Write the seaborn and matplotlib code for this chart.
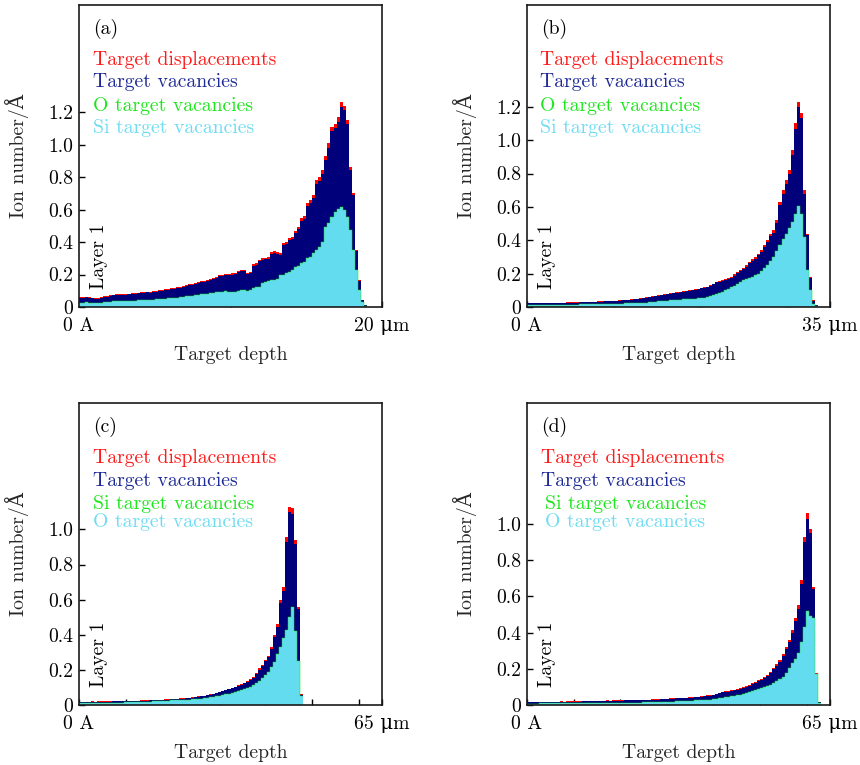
import numpy as np
import pandas as pd
import matplotlib
matplotlib.use("Agg")
import matplotlib.pyplot as plt
import seaborn as sns

# ---------------- data ----------------
# panel (a): 0-20 um, bin 0.2 um
a_disp = [0.060, 0.062, 0.064, 0.060, 0.058, 0.055, 0.054, 0.060, 0.066, 0.068,
          0.072, 0.075, 0.078, 0.080, 0.078, 0.080, 0.083, 0.085, 0.086, 0.088,
          0.090, 0.092, 0.094, 0.093, 0.096, 0.100, 0.104, 0.106, 0.108, 0.112,
          0.115, 0.118, 0.122, 0.125, 0.130, 0.135, 0.140, 0.143, 0.148, 0.152,
          0.158, 0.160, 0.168, 0.175, 0.180, 0.185, 0.195, 0.200, 0.203, 0.205,
          0.207, 0.210, 0.222, 0.228, 0.228, 0.211, 0.214, 0.262, 0.270, 0.290,
          0.300, 0.302, 0.305, 0.338, 0.342, 0.336, 0.330, 0.395, 0.402, 0.428,
          0.432, 0.470, 0.494, 0.546, 0.560, 0.638, 0.660, 0.690, 0.780, 0.800,
          0.843, 0.930, 1.007, 1.110, 1.130, 1.170, 1.263, 1.240, 1.150, 0.860,
          0.700, 0.350, 0.166, 0.043, 0.010]
a_vac = [0.056, 0.058, 0.060, 0.057, 0.054, 0.052, 0.051, 0.056, 0.062, 0.064,
         0.068, 0.071, 0.074, 0.076, 0.075, 0.076, 0.079, 0.081, 0.082, 0.084,
         0.086, 0.088, 0.090, 0.089, 0.092, 0.095, 0.099, 0.101, 0.103, 0.107,
         0.110, 0.113, 0.117, 0.120, 0.124, 0.129, 0.134, 0.137, 0.142, 0.146,
         0.151, 0.153, 0.161, 0.168, 0.173, 0.178, 0.188, 0.193, 0.196, 0.198,
         0.200, 0.203, 0.214, 0.220, 0.220, 0.204, 0.207, 0.253, 0.261, 0.281,
         0.291, 0.293, 0.296, 0.328, 0.332, 0.326, 0.320, 0.383, 0.390, 0.415,
         0.419, 0.456, 0.480, 0.530, 0.543, 0.620, 0.641, 0.670, 0.758, 0.778,
         0.820, 0.905, 0.980, 1.082, 1.100, 1.140, 1.232, 1.215, 1.125, 0.845,
         0.690, 0.345, 0.162, 0.042, 0.010]
a_si = [0.026, 0.027, 0.028, 0.026, 0.025, 0.025, 0.024, 0.027, 0.030, 0.031,
        0.033, 0.034, 0.035, 0.036, 0.035, 0.036, 0.038, 0.039, 0.040, 0.041,
        0.042, 0.043, 0.044, 0.044, 0.045, 0.047, 0.049, 0.050, 0.051, 0.053,
        0.054, 0.056, 0.058, 0.060, 0.062, 0.065, 0.067, 0.069, 0.072, 0.074,
        0.077, 0.078, 0.082, 0.085, 0.088, 0.090, 0.093, 0.095, 0.097, 0.094,
        0.094, 0.095, 0.096, 0.102, 0.104, 0.100, 0.102, 0.120, 0.122, 0.125,
        0.150, 0.156, 0.160, 0.166, 0.166, 0.170, 0.195, 0.200, 0.208, 0.217,
        0.225, 0.248, 0.250, 0.270, 0.279, 0.300, 0.310, 0.330, 0.350, 0.370,
        0.400, 0.490, 0.520, 0.556, 0.586, 0.605, 0.613, 0.600, 0.556, 0.474,
        0.350, 0.228, 0.105, 0.033, 0.005]

# panel (b): 0-35 um, bin 0.35 um
b_disp = [0.022, 0.023, 0.022, 0.023, 0.024, 0.023, 0.024, 0.024, 0.025, 0.024,
          0.025, 0.026, 0.025, 0.027, 0.027, 0.028, 0.028, 0.029, 0.030, 0.030,
          0.031, 0.032, 0.032, 0.033, 0.034, 0.035, 0.035, 0.036, 0.037, 0.038,
          0.040, 0.041, 0.042, 0.044, 0.046, 0.048, 0.050, 0.052, 0.055, 0.058,
          0.060, 0.063, 0.066, 0.070, 0.072, 0.075, 0.078, 0.082, 0.086, 0.088,
          0.090, 0.094, 0.098, 0.100, 0.104, 0.108, 0.110, 0.115, 0.120, 0.122,
          0.130, 0.140, 0.152, 0.155, 0.160, 0.168, 0.175, 0.180, 0.195, 0.210,
          0.220, 0.235, 0.250, 0.270, 0.285, 0.300, 0.320, 0.340, 0.370, 0.400,
          0.440, 0.460, 0.520, 0.630, 0.700, 0.760, 0.820, 0.940, 1.100, 1.230,
          1.160, 0.700, 0.440, 0.180, 0.040, 0.012]
b_vac = [0.021, 0.021, 0.021, 0.022, 0.022, 0.022, 0.022, 0.023, 0.023, 0.023,
         0.024, 0.024, 0.024, 0.025, 0.025, 0.026, 0.026, 0.027, 0.028, 0.028,
         0.029, 0.030, 0.030, 0.031, 0.032, 0.033, 0.033, 0.034, 0.035, 0.036,
         0.038, 0.039, 0.040, 0.042, 0.044, 0.046, 0.048, 0.050, 0.053, 0.056,
         0.058, 0.061, 0.064, 0.067, 0.069, 0.072, 0.075, 0.079, 0.083, 0.085,
         0.087, 0.091, 0.094, 0.096, 0.100, 0.104, 0.106, 0.111, 0.116, 0.118,
         0.125, 0.135, 0.147, 0.150, 0.155, 0.162, 0.169, 0.174, 0.188, 0.203,
         0.213, 0.227, 0.242, 0.261, 0.276, 0.290, 0.310, 0.329, 0.358, 0.387,
         0.426, 0.446, 0.504, 0.611, 0.679, 0.737, 0.795, 0.912, 1.067, 1.200,
         1.130, 0.680, 0.430, 0.175, 0.038, 0.012]
b_si = [0.010, 0.010, 0.010, 0.011, 0.011, 0.011, 0.011, 0.012, 0.012, 0.012,
        0.012, 0.013, 0.013, 0.013, 0.014, 0.014, 0.014, 0.015, 0.015, 0.015,
        0.016, 0.016, 0.017, 0.017, 0.017, 0.018, 0.018, 0.019, 0.019, 0.020,
        0.020, 0.020, 0.021, 0.021, 0.021, 0.022, 0.022, 0.022, 0.024, 0.026,
        0.028, 0.030, 0.032, 0.034, 0.036, 0.037, 0.038, 0.040, 0.042, 0.043,
        0.044, 0.045, 0.046, 0.048, 0.049, 0.050, 0.051, 0.052, 0.055, 0.060,
        0.065, 0.070, 0.075, 0.082, 0.090, 0.100, 0.110, 0.118, 0.128, 0.140,
        0.152, 0.160, 0.168, 0.175, 0.182, 0.190, 0.200, 0.215, 0.232, 0.250,
        0.275, 0.300, 0.335, 0.370, 0.405, 0.440, 0.475, 0.510, 0.560, 0.605,
        0.560, 0.420, 0.220, 0.100, 0.020, 0.005]

# panel (c): 0-65 um, bin 0.65 um
c_disp = [0.019, 0.018, 0.019, 0.019, 0.020, 0.019, 0.020, 0.020, 0.021, 0.020,
          0.021, 0.021, 0.022, 0.022, 0.023, 0.023, 0.024, 0.024, 0.025, 0.025,
          0.026, 0.026, 0.027, 0.028, 0.028, 0.029, 0.030, 0.031, 0.032, 0.033,
          0.034, 0.035, 0.036, 0.038, 0.039, 0.041, 0.042, 0.044, 0.046, 0.049,
          0.051, 0.054, 0.057, 0.060, 0.064, 0.068, 0.074, 0.080, 0.086, 0.092,
          0.098, 0.105, 0.112, 0.120, 0.128, 0.138, 0.148, 0.160, 0.180, 0.210,
          0.230, 0.256, 0.280, 0.330, 0.400, 0.460, 0.600, 0.670, 0.956, 1.130,
          1.120, 0.940, 0.560, 0.060]
c_vac = [0.017, 0.017, 0.017, 0.018, 0.018, 0.018, 0.018, 0.019, 0.019, 0.019,
         0.019, 0.020, 0.020, 0.021, 0.021, 0.022, 0.022, 0.023, 0.023, 0.024,
         0.024, 0.025, 0.025, 0.026, 0.027, 0.027, 0.028, 0.029, 0.030, 0.031,
         0.032, 0.033, 0.034, 0.036, 0.037, 0.039, 0.040, 0.042, 0.044, 0.047,
         0.049, 0.052, 0.055, 0.058, 0.062, 0.066, 0.072, 0.077, 0.083, 0.089,
         0.095, 0.101, 0.108, 0.116, 0.124, 0.133, 0.143, 0.155, 0.174, 0.199,
         0.223, 0.248, 0.271, 0.320, 0.388, 0.446, 0.582, 0.650, 0.928, 1.100,
         1.090, 0.915, 0.545, 0.058]
c_o = [0.010, 0.010, 0.010, 0.011, 0.011, 0.011, 0.011, 0.012, 0.012, 0.012,
       0.013, 0.013, 0.013, 0.014, 0.014, 0.015, 0.015, 0.016, 0.016, 0.017,
       0.017, 0.018, 0.018, 0.019, 0.020, 0.021, 0.022, 0.023, 0.024, 0.025,
       0.026, 0.026, 0.027, 0.028, 0.029, 0.030, 0.031, 0.033, 0.034, 0.036,
       0.037, 0.039, 0.041, 0.044, 0.047, 0.050, 0.053, 0.057, 0.061, 0.065,
       0.069, 0.073, 0.078, 0.085, 0.091, 0.097, 0.104, 0.114, 0.125, 0.138,
       0.151, 0.170, 0.190, 0.215, 0.246, 0.290, 0.330, 0.380, 0.426, 0.500,
       0.560, 0.420, 0.250, 0.050]

# panel (d): 0-65 um, bin 0.65 um
d_disp = [0.018, 0.018, 0.017, 0.018, 0.018, 0.019, 0.018, 0.019, 0.019, 0.019,
          0.019, 0.020, 0.019, 0.020, 0.020, 0.021, 0.020, 0.021, 0.021, 0.022,
          0.022, 0.022, 0.023, 0.023, 0.024, 0.024, 0.025, 0.024, 0.025, 0.026,
          0.026, 0.026, 0.027, 0.027, 0.027, 0.028, 0.028, 0.028, 0.029, 0.030,
          0.030, 0.031, 0.031, 0.032, 0.033, 0.034, 0.035, 0.036, 0.037, 0.038,
          0.039, 0.040, 0.041, 0.042, 0.043, 0.045, 0.047, 0.050, 0.052, 0.054,
          0.053, 0.056, 0.062, 0.068, 0.074, 0.076, 0.078, 0.082, 0.085, 0.088,
          0.092, 0.098, 0.105, 0.112, 0.120, 0.129, 0.137, 0.145, 0.155, 0.168,
          0.184, 0.205, 0.225, 0.249, 0.280, 0.322, 0.360, 0.414, 0.480, 0.552,
          0.690, 0.930, 1.060, 0.976, 0.654, 0.175, 0.016]
d_vac = [0.016, 0.016, 0.016, 0.016, 0.017, 0.017, 0.017, 0.017, 0.017, 0.018,
         0.018, 0.018, 0.018, 0.018, 0.019, 0.019, 0.019, 0.019, 0.020, 0.020,
         0.020, 0.021, 0.021, 0.021, 0.022, 0.022, 0.023, 0.023, 0.023, 0.024,
         0.024, 0.024, 0.025, 0.025, 0.025, 0.026, 0.026, 0.026, 0.027, 0.028,
         0.028, 0.029, 0.029, 0.030, 0.031, 0.032, 0.033, 0.034, 0.035, 0.036,
         0.037, 0.038, 0.039, 0.040, 0.041, 0.043, 0.045, 0.047, 0.049, 0.051,
         0.050, 0.053, 0.059, 0.065, 0.070, 0.072, 0.074, 0.078, 0.081, 0.084,
         0.088, 0.093, 0.100, 0.107, 0.115, 0.123, 0.131, 0.139, 0.148, 0.161,
         0.176, 0.197, 0.216, 0.239, 0.269, 0.310, 0.347, 0.399, 0.463, 0.532,
         0.668, 0.900, 1.030, 0.950, 0.640, 0.170, 0.014]
d_o = [0.008, 0.008, 0.008, 0.008, 0.009, 0.009, 0.009, 0.009, 0.009, 0.010,
       0.010, 0.010, 0.010, 0.010, 0.011, 0.011, 0.011, 0.011, 0.011, 0.012,
       0.012, 0.012, 0.012, 0.012, 0.012, 0.013, 0.013, 0.013, 0.013, 0.013,
       0.013, 0.013, 0.013, 0.013, 0.013, 0.013, 0.013, 0.013, 0.014, 0.014,
       0.015, 0.015, 0.016, 0.016, 0.017, 0.017, 0.018, 0.019, 0.019, 0.020,
       0.021, 0.022, 0.022, 0.023, 0.024, 0.025, 0.026, 0.027, 0.028, 0.028,
       0.029, 0.031, 0.034, 0.037, 0.040, 0.043, 0.046, 0.049, 0.052, 0.055,
       0.057, 0.061, 0.065, 0.070, 0.076, 0.083, 0.088, 0.094, 0.100, 0.107,
       0.113, 0.120, 0.130, 0.142, 0.157, 0.178, 0.204, 0.230, 0.255, 0.285,
       0.350, 0.430, 0.520, 0.490, 0.480, 0.170, 0.010]

panel_letters = ["(a)", "(b)", "(c)", "(d)"]
depth_max = [20, 35, 65, 65]                     # um
y_ticks_ab = [0, 0.2, 0.4, 0.6, 0.8, 1.0, 1.2]
y_ticks_cd = [0, 0.2, 0.4, 0.6, 0.8, 1.0]
y_tick_labels_ab = ["0", "0.2", "0.4", "0.6", "0.8", "1.0", "1.2"]
y_tick_labels_cd = ["0", "0.2", "0.4", "0.6", "0.8", "1.0"]
legend_ab = ["Target displacements", "Target vacancies",
             "O target vacancies", "Si target vacancies"]
legend_cd = ["Target displacements", "Target vacancies",
             "Si target vacancies", "O target vacancies"]

# ---------------- style ----------------
sns.set_theme(style="white")
plt.rcParams['font.family'] = ['cmr10', 'DejaVu Serif']
plt.rcParams['axes.unicode_minus'] = False
plt.rcParams['axes.formatter.use_mathtext'] = True

RED = "#ff0000"
NAVY = "#00007a"
GREEN = "#18e018"
CYAN = "#64dcf0"
TXT_COLORS = ["#ff1a1a", "#1e2a96", "#1ee61e", "#70dcf2"]
FS = 14.2

W, H = 860, 765
fig = plt.figure(figsize=(W / 100, H / 100), dpi=100)

# axes boxes in pixels: left, top, right, bottom
boxes = [(79, 5, 382, 307), (527, 5, 830, 307),
         (79, 403, 382, 705), (527, 403, 830, 705)]
ymax = [1.86, 1.81, 1.72, 1.67]
series = [(a_disp, a_vac, a_si, a_si),
          (b_disp, b_vac, b_si, b_si),
          (c_disp, c_vac, c_o, c_o),
          (d_disp, d_vac, d_o, d_o)]
leg_y = [[0.801, 0.727, 0.649, 0.575], [0.801, 0.727, 0.649, 0.575],
         [0.802, 0.726, 0.650, 0.589], [0.802, 0.726, 0.650, 0.590]]
leg_x = [[0.046] * 4, [0.043] * 4, [0.046] * 4, [0.046, 0.046, 0.059, 0.059]]


def step_hist(ax, centers, vals, edges, color, fill=True, lw=0.0):
    df = pd.DataFrame({"depth": centers, "value": vals})
    sns.histplot(data=df, x="depth", weights="value", bins=list(edges),
                 element="step", fill=fill, color=color, alpha=1,
                 linewidth=lw, ax=ax)


for k in range(4):
    l, t, r, b = boxes[k]
    ax = fig.add_axes([l / W, 1 - b / H, (r - l) / W, (b - t) / H])
    disp, vac, green_v, cyan_v = series[k]
    n = len(disp)
    width = depth_max[k] / 100.0
    edges = np.arange(n + 1) * width
    centers = edges[:-1] + width / 2

    step_hist(ax, centers, disp, edges, RED)
    step_hist(ax, centers, vac, edges, NAVY)
    step_hist(ax, centers, green_v, edges, GREEN, fill=False, lw=0.35)
    step_hist(ax, centers, cyan_v, edges, CYAN)

    ax.set_xlim(0, depth_max[k])
    ax.set_ylim(0, ymax[k])

    if k < 2:
        ax.set_yticks(y_ticks_ab)
        ax.set_yticklabels(y_tick_labels_ab)
    else:
        ax.set_yticks(y_ticks_cd)
        ax.set_yticklabels(y_tick_labels_cd)
    xt = list(range(0, depth_max[k], 10)) + [depth_max[k]]
    ax.set_xticks(xt)
    ax.set_xticklabels(["0 A"] + [""] * (len(xt) - 2) + [f"{depth_max[k]} μm"])

    ax.tick_params(axis="both", direction="in", length=4, width=1.0,
                   colors="black", labelsize=FS)
    ax.tick_params(axis="x", pad=7, bottom=True, top=False)
    ax.tick_params(axis="y", pad=4, left=True, right=False)
    for s in ax.spines.values():
        s.set_color("#1a1a1a")
        s.set_linewidth(1.2)

    ax.set_ylabel("Ion number/Å", fontsize=FS)
    ax.yaxis.set_label_coords(-0.165, 0.5)
    ax.set_xlabel("Target depth", fontsize=FS, va="top")
    ax.xaxis.set_label_coords(0.5, -0.128)

    ax.text(0.046, 0.955, panel_letters[k], transform=ax.transAxes,
            ha="left", va="top", fontsize=FS, color="black")
    labels = legend_ab if k < 2 else legend_cd
    for j in range(4):
        ax.text(leg_x[k][j], leg_y[k][j], labels[j], transform=ax.transAxes,
                ha="left", va="baseline", fontsize=FS, color=TXT_COLORS[j])
    ax.text(0.066, 0.06, "Layer 1", transform=ax.transAxes, rotation=90,
            ha="center", va="bottom", fontsize=FS, color="black")

fig.savefig("out.png", dpi=100)
